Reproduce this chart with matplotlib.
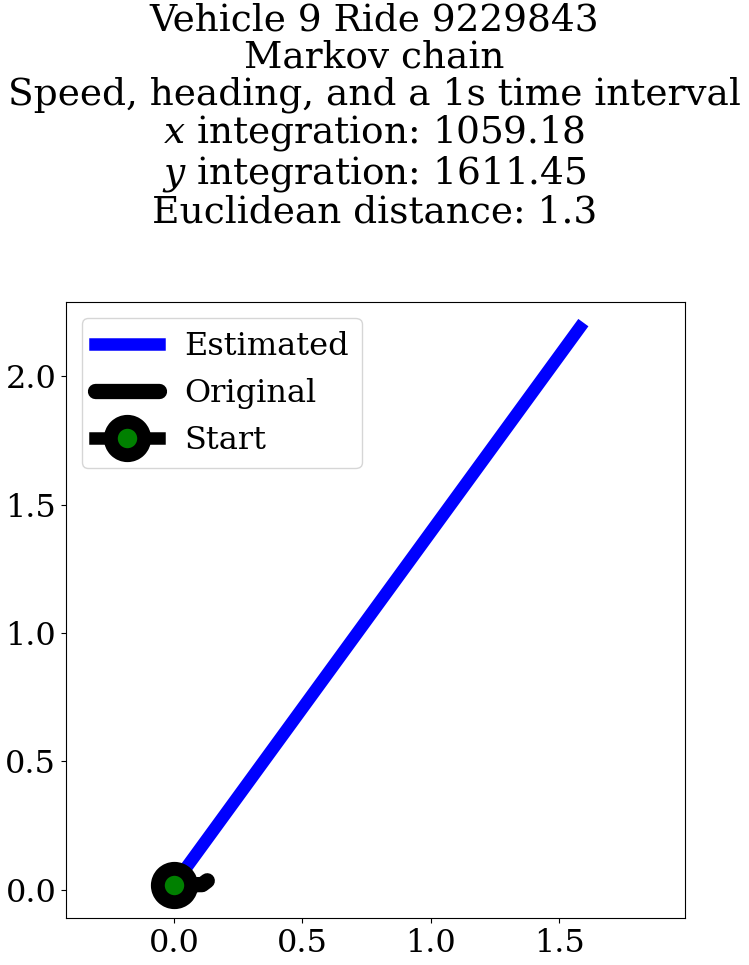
import matplotlib
matplotlib.use("Agg")
import matplotlib.pyplot as plt

plt.rcParams['font.family'] = 'DejaVu Serif'
plt.rcParams['mathtext.fontset'] = 'dejavuserif'

est_x = [0.0, 1.58]
est_y = [0.02, 2.19]
orig_x = [0.0, 0.03, 0.05, 0.07, 0.09, 0.11, 0.13]
orig_y = [0.02, 0.02, 0.02, 0.015, 0.02, 0.02, 0.035]
start_x = [0.0]
start_y = [0.02]

fig = plt.figure(figsize=(7.49, 9.65), dpi=100)
ax = fig.add_axes([66/749, 1 - 918/965, (685-66)/749, (918-302)/965])
ax.plot(est_x, est_y, color='blue', lw=9, label='Estimated')
ax.plot(orig_x, orig_y, color='black', lw=11, solid_capstyle='round',
        solid_joinstyle='round', label='Original')
ax.plot(start_x, start_y, color='black', lw=9, marker='o', markersize=24,
        markerfacecolor='green', markeredgecolor='black', markeredgewidth=10, label='Start')
ax.set_xlim(-0.42, 1.99)
ax.set_ylim(-0.11, 2.29)
ax.set_xticks([0.0, 0.5, 1.0, 1.5])
ax.set_yticks([0.0, 0.5, 1.0, 1.5, 2.0])
ax.tick_params(labelsize=23)
ax.legend(loc='upper left', fontsize=23)
fig.text(0.5, 0.997, 'Vehicle 9 Ride 9229843\nMarkov chain\nSpeed, heading, and a 1s time interval\n'
         '$x$ integration: 1059.18\n$y$ integration: 1611.45\nEuclidean distance: 1.3',
         ha='center', va='top', fontsize=27, linespacing=1.02)
fig.savefig('out.png', dpi=100)
